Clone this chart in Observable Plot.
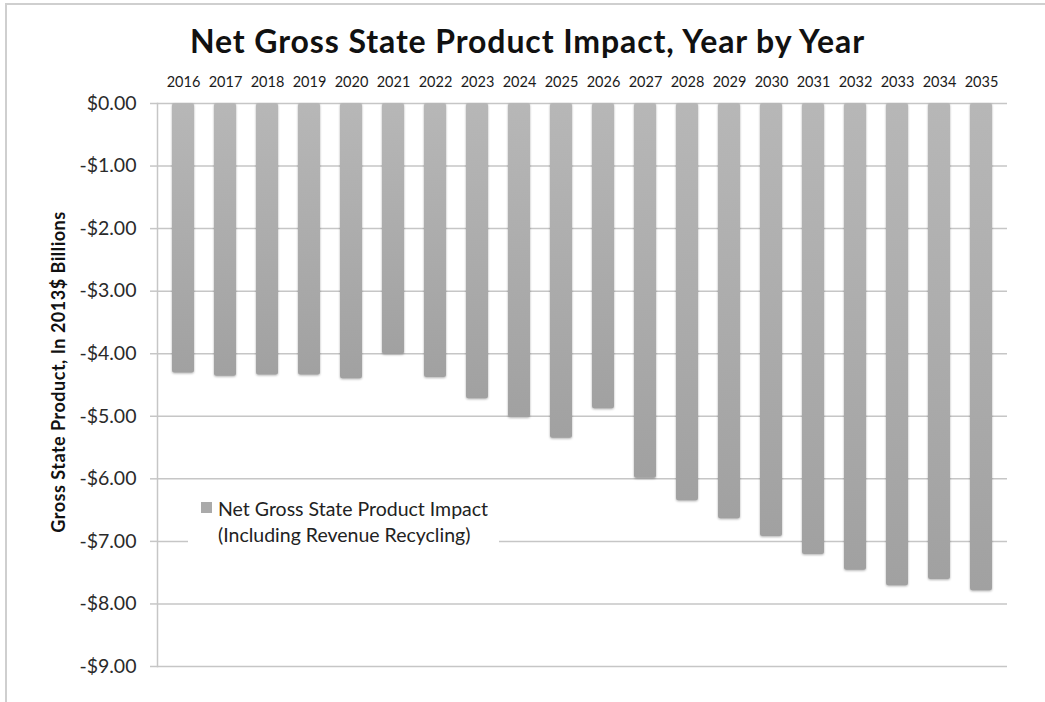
<!DOCTYPE html>
<html>
<head>
<meta charset="utf-8">
<script src="https://cdn.jsdelivr.net/npm/d3@7"></script>
<script src="https://cdn.jsdelivr.net/npm/@observablehq/plot@0.6"></script>
<style>
  body { margin: 0; background: #fff; overflow: hidden; font-family: Lato, sans-serif; }
  #wrap { position: relative; width: 1045px; height: 702px; }
  #border { position: absolute; left: 5px; top: 3px; right: -2px; bottom: -2px; border-top: 2px solid #cfcfcf; border-left: 2px solid #cfcfcf; }
  #title { position: absolute; left: 0; top: 25px; width: 1055px; text-align: center; font-weight: 700; font-size: 32px; letter-spacing: 0.9px; line-height: 32px; color: #111; white-space: nowrap; }
  #chart { position: absolute; left: 0; top: 0; }
  #ylabel { position: absolute; left: -142px; top: 362px; width: 400px; height: 20px; line-height: 20px; text-align: center; transform: rotate(-90deg); font-weight: 700; font-size: 18px; letter-spacing: 0.5px; color: #111; white-space: nowrap; }
  #legend { position: absolute; left: 188px; top: 495px; width: 311px; height: 60px; background: #fff; }
  #legend .swatch { position: absolute; left: 13px; top: 7px; width: 11px; height: 11px; background: #aaaaaa; }
  #legend .text { position: absolute; left: 30px; top: 1px; font-size: 19.5px; line-height: 26px; color: #222; white-space: nowrap; }
</style>
</head>
<body>
<div id="wrap">
  <div id="border"></div>
  <div id="chart"></div>
  <div id="title"></div>
  <div id="ylabel"></div>
  <div id="legend"><div class="swatch"></div><div class="text"></div></div>
</div>
<script>
const titleText = "Net Gross State Product Impact, Year by Year";
const yLabelText = "Gross State Product, In 2013$ Billions";
const legendLines = ["Net Gross State Product Impact", "(Including Revenue Recycling)"];

const years = ["2016","2017","2018","2019","2020","2021","2022","2023","2024","2025",
               "2026","2027","2028","2029","2030","2031","2032","2033","2034","2035"];
const impact = [-4.31, -4.36, -4.34, -4.34, -4.40, -4.01, -4.38, -4.72, -5.02, -5.35,
                -4.88, -5.99, -6.35, -6.64, -6.92, -7.21, -7.46, -7.71, -7.61, -7.79];
const yTicks = [0, -1, -2, -3, -4, -5, -6, -7, -8, -9];

document.getElementById("title").textContent = titleText;
document.getElementById("ylabel").textContent = yLabelText;
document.querySelector("#legend .text").innerHTML = legendLines.map(s => `<div>${s}</div>`).join("");

const data = years.map((year, i) => ({year, value: impact[i]}));
const fmt = d => (d < 0 ? "-" : "") + "$" + Math.abs(d).toFixed(2);
const gridColor = "#c6c6c6";

const chart = Plot.plot({
  width: 1045,
  height: 702,
  marginTop: 103,
  marginBottom: 36,
  marginLeft: 157,
  marginRight: 38,
  style: {fontFamily: "Lato, sans-serif", background: "transparent"},
  x: {domain: years, paddingInner: 0.48, paddingOuter: 0.24, axis: null},
  y: {domain: [d3.min(yTicks), d3.max(yTicks)], axis: null},
  marks: [
    Plot.ruleY(yTicks, {stroke: gridColor, strokeWidth: 1.5}),
    Plot.frame({anchor: "left", stroke: gridColor, strokeWidth: 1.5}),
    Plot.barY(data, {x: "year", y: "value", fill: "url(#barGrad)", rx: 2.5,
                     imageFilter: "drop-shadow(0px 1px 1px rgba(0,0,0,0.3))"}),
    Plot.axisX({anchor: "top", tickSize: 0, tickPadding: 17, fontSize: 14.5, fill: "#1a1a1a", label: null}),
    Plot.axisY({ticks: yTicks, tickFormat: fmt, tickSize: 7, tickPadding: 14,
                stroke: gridColor, strokeWidth: 1.5, strokeOpacity: 1, fontSize: 19.5, fill: "#2a2a2a", label: null})
  ]
});

const ns = "http://www.w3.org/2000/svg";
const defs = document.createElementNS(ns, "defs");
defs.innerHTML = `<linearGradient id="barGrad" x1="0" y1="0" x2="0" y2="1">
  <stop offset="0" stop-color="#b7b7b7"/><stop offset="1" stop-color="#a1a1a1"/></linearGradient>`;
chart.insertBefore(defs, chart.firstChild);
document.getElementById("chart").appendChild(chart);
</script>
</body>
</html>
